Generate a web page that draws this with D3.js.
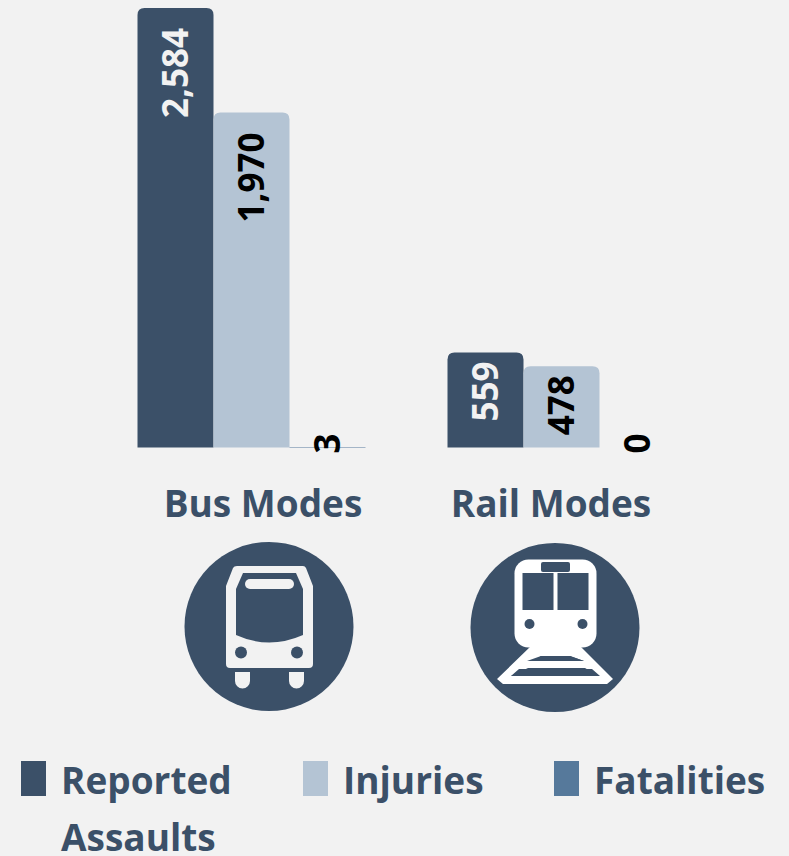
<!DOCTYPE html>
<html><head><meta charset="utf-8">
<script src="https://cdn.jsdelivr.net/npm/d3@7"></script>
<style>html,body{margin:0;padding:0;background:#f2f2f2;overflow:hidden}svg{display:block}text{font-family:"Open Sans",sans-serif;font-weight:700}</style>
</head><body><svg id="c" width="789" height="856"></svg>
<script>
const categories=["Bus Modes","Rail Modes"];
const seriesNames=["Reported Assaults","Injuries","Fatalities"];
const busValues=[2584,1970,3];
const railValues=[559,478,0];
const colors=["#3b5068","#b4c4d4","#56799b"];
const labelColors=["#f2f2f2","#000","#000"];
const navy="#3b5068",bg="#f2f2f2";
const svg=d3.select("#c");
const baseline=447.5;
const y=d3.scaleLinear().domain([0,2584]).range([baseline,8]);
const groups=d3.scaleOrdinal().domain(categories).range([137.5,447.5]);
const x=d3.scaleBand().domain(seriesNames).range([0,228]).padding(0);
function topBar(x0,w,y0,y1,r){r=Math.min(r,y1-y0);return `M${x0},${y1}V${y0+r}Q${x0},${y0} ${x0+r},${y0}H${x0+w-r}Q${x0+w},${y0} ${x0+w},${y0+r}V${y1}Z`;}
categories.forEach((cat,ci)=>{
  const vals=ci===0?busValues:railValues;
  const g=svg.append("g").attr("transform",`translate(${groups(cat)},0)`);
  vals.forEach((v,i)=>{
    const px=x(seriesNames[i]);
    if(v>0) g.append("path").attr("d",topBar(px,x.bandwidth(),y(v),baseline,i===2?0:7)).attr("fill",colors[i]);
    const topY=v>20?y(v)+ (ci===0?20:9):(i===2?baseline-14:baseline-14);
    g.append("text").attr("transform",`translate(${px+x.bandwidth()/2+12.5},${topY}) rotate(-90)`)
      .attr("text-anchor","end").attr("font-size",35).attr("fill",labelColors[i]).text(d3.format(",")(v));
  });
});
// category labels
const catX=[263,551];
categories.forEach((c,i)=>svg.append("text").attr("x",catX[i]).attr("y",517).attr("text-anchor","middle").attr("font-size",37).attr("fill",navy).text(c));
// bus icon
const bus=svg.append("g");
bus.append("circle").attr("cx",269).attr("cy",626.5).attr("r",84.5).attr("fill",navy);
bus.append("path").attr("fill",bg).attr("fill-rule","evenodd").attr("d","M237,566H303Q305,566 306,568L313,586V664Q313,668 309,668H230Q226,668 226,664V586L233,568Q234,566 237,566Z M243,573L236,589V635Q269,650 303,635V589L296,573Z");
bus.append("rect").attr("x",245).attr("y",579).attr("width",49).attr("height",10).attr("rx",5).attr("fill",bg);
[241,297].forEach(cx=>bus.append("circle").attr("cx",cx).attr("cy",652.5).attr("r",6).attr("fill",navy));
[235,289].forEach(xx=>bus.append("path").attr("fill",bg).attr("d",`M${xx},672H${xx+15}V681A7.5,7.5 0 0 1 ${xx},681Z`));
// rail icon
const rail=svg.append("g");
rail.append("circle").attr("cx",555).attr("cy",627.5).attr("r",84.5).attr("fill",navy);
rail.append("rect").attr("x",514.5).attr("y",559.5).attr("width",82).attr("height",88).attr("rx",14).attr("fill","#fff");
rail.append("rect").attr("x",541).attr("y",562).attr("width",29).attr("height",10).attr("rx",2).attr("fill",navy);
rail.append("rect").attr("x",522.5).attr("y",573).attr("width",31).attr("height",37).attr("fill",navy);
rail.append("rect").attr("x",557.5).attr("y",573).attr("width",31).attr("height",37).attr("fill",navy);
[529.5,582.5].forEach(cx=>rail.append("circle").attr("cx",cx).attr("cy",624).attr("r",5).attr("fill",navy));
rail.append("path").attr("fill","#fff").attr("fill-rule","evenodd").attr("d","M530,647H581L613,679L607,684H503L497,679Z M534,661H584L570,656H541Z M528,668L511,676H599L585,668Z");
rail.append("path").attr("fill",navy).attr("d","M541,656H570L584,661H527Z M519,669H592L600,676H511Z");
// legend
const legendSwatch=[21,303,554];
const legendText=[[61,["Reported","Assaults"]],[343,["Injuries"]],[594,["Fatalities"]]];
seriesNames.forEach((s,i)=>{
  svg.append("rect").attr("x",legendSwatch[i]).attr("y",761).attr("width",25).attr("height",35).attr("fill",colors[i]);
  const t=svg.append("text").attr("font-size",37).attr("fill",navy);
  legendText[i][1].forEach((l,j)=>t.append("tspan").attr("x",legendText[i][0]).attr("y",794+j*57).text(l));
});
</script></body></html>
